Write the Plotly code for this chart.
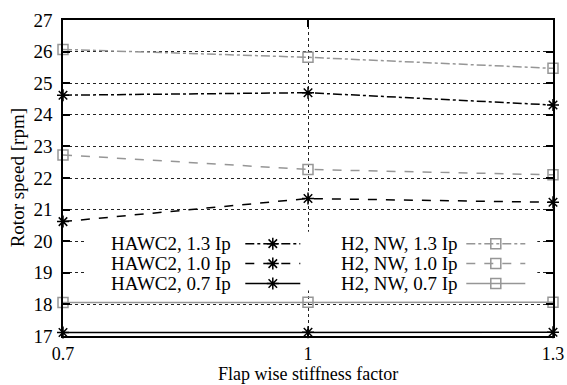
import plotly.graph_objects as go

x_vals = [0.7, 1.0, 1.3]
x_ticks = [0.7, 1.0, 1.3]
x_tick_labels = ["0.7", "1", "1.3"]
y_ticks = list(range(17, 28))

hawc2_13 = [24.62, 24.70, 24.31]
hawc2_10 = [20.62, 21.35, 21.23]
hawc2_07 = [17.11, 17.12, 17.12]
h2nw_13 = [26.07, 25.82, 25.47]
h2nw_10 = [22.73, 22.27, 22.10]
h2nw_07 = [18.06, 18.07, 18.07]

labels = ["HAWC2, 1.3 Ip", "HAWC2, 1.0 Ip", "HAWC2, 0.7 Ip",
          "H2, NW, 1.3 Ip", "H2, NW, 1.0 Ip", "H2, NW, 0.7 Ip"]
x_title = "Flap wise stiffness factor"
y_title = "Rotor speed [rpm]"

FONT = "Times New Roman, Liberation Serif, serif"
BLACK = "#000000"
GRAY = "#969696"

series = [
    (hawc2_13, BLACK, "dashdot", "asterisk-open", labels[0]),
    (hawc2_10, BLACK, "dash", "asterisk-open", labels[1]),
    (hawc2_07, BLACK, "solid", "asterisk-open", labels[2]),
    (h2nw_13, GRAY, "dashdot", "square-open", labels[3]),
    (h2nw_10, GRAY, "dash", "square-open", labels[4]),
    (h2nw_07, GRAY, "solid", "square-open", labels[5]),
]

fig = go.Figure()
for ys, col, dash, sym, name in series:
    fig.add_trace(go.Scatter(
        x=x_vals, y=ys, mode="lines+markers", name=name,
        line=dict(color=col, width=1.5, dash=dash),
        marker=dict(symbol=sym, size=10, color=col, line=dict(color=col, width=1.5)),
        showlegend=False, cliponaxis=False,
    ))

# Manual gnuplot-style key (on an overlay axis spanning the plot area, 0..1 units)
W, H = 567, 385
L, R, T, B = 62.7, 552.7, 20, 336.5
def px2fx(px):
    return (px - L) / (R - L)
def py2fy(py):
    return (B - py) / (B - T)

# white key background (covers grid lines)
bx0, bx1, by0, by1 = px2fx(85), px2fx(537), py2fy(291), py2fy(232)
fig.add_trace(go.Scatter(
    x=[bx0, bx1, bx1, bx0, bx0], y=[by0, by0, by1, by1, by0],
    mode="lines", fill="toself", fillcolor="white", line=dict(width=0, color="white"),
    xaxis="x2", yaxis="y2", showlegend=False, hoverinfo="skip",
))

rows_y = [244, 264, 284]
cols = [(233, 245, 300), (459, 466, 525)]
for i, (ys, col, dash, sym, name) in enumerate(series):
    c = i // 3
    r = i % 3
    tx, s0, s1 = cols[c]
    yy = py2fy(rows_y[r])
    fig.add_trace(go.Scatter(
        x=[px2fx(s0), px2fx(s1)], y=[yy, yy], mode="lines",
        line=dict(color=col, width=1.5, dash=dash),
        xaxis="x2", yaxis="y2", showlegend=False, hoverinfo="skip",
    ))
    fig.add_trace(go.Scatter(
        x=[px2fx((s0 + s1) / 2)], y=[yy], mode="markers",
        marker=dict(symbol=sym, size=10, color=col, line=dict(color=col, width=1.5)),
        xaxis="x2", yaxis="y2", showlegend=False, hoverinfo="skip",
    ))
    fig.add_annotation(
        x=px2fx(tx), y=yy, xref="x2", yref="y2", text=name, showarrow=False,
        xanchor="right", yanchor="middle", font=dict(family=FONT, size=19, color="black"),
    )

# axis titles
fig.add_annotation(x=0.5, y=py2fy(375), xref="paper", yref="paper", text=x_title,
                   showarrow=False, xanchor="center", yanchor="middle", borderpad=0,
                   font=dict(family=FONT, size=18, color="black"))
fig.add_annotation(x=px2fx(17), y=0.5, xref="paper", yref="paper", text=y_title,
                   showarrow=False, xanchor="center", yanchor="middle", textangle=-90,
                   font=dict(family=FONT, size=19, color="black"))

axis_common = dict(
    showline=True, linecolor="black", linewidth=1.5, mirror="ticks",
    ticks="inside", ticklen=7, tickwidth=1.5, tickcolor="black",
    showgrid=True, gridcolor="#222", griddash="dot", gridwidth=1,
    zeroline=False, automargin=False,
)

fig.update_layout(
    width=W, height=H,
    margin=dict(l=L, r=W - R, t=T, b=H - B),
    plot_bgcolor="white", paper_bgcolor="white",
    font=dict(family=FONT, size=19, color="black"),
    xaxis=dict(range=[0.7, 1.3], tickvals=x_ticks, ticktext=x_tick_labels,
               ticklabelstandoff=1, tickfont=dict(family=FONT, size=18, color="black"),
               **axis_common),
    yaxis=dict(range=[17, 27], tickvals=y_ticks, ticklabelstandoff=5,
               tickfont=dict(family=FONT, size=19, color="black"),
               **axis_common),
    xaxis2=dict(overlaying="x", range=[0, 1], visible=False, fixedrange=True),
    yaxis2=dict(overlaying="y", range=[0, 1], visible=False, fixedrange=True),
)

fig.write_html("out.html")
